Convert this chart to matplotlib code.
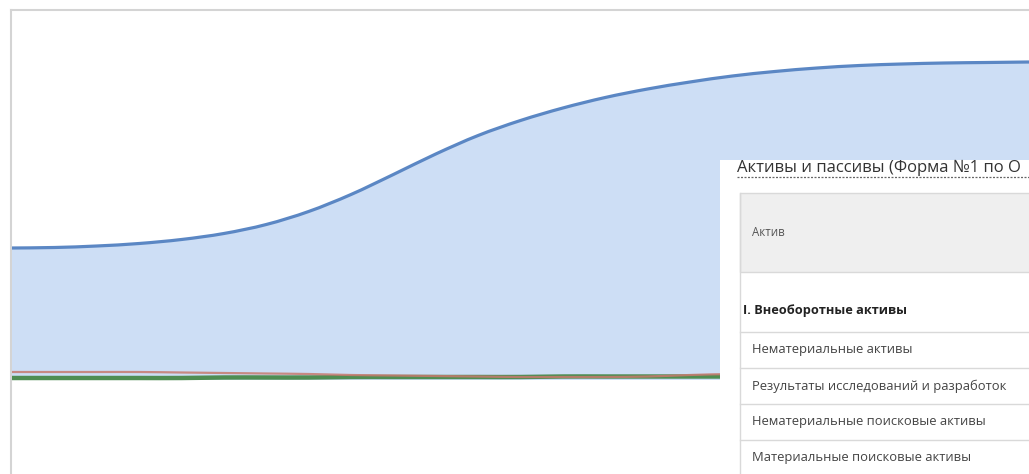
import matplotlib.pyplot as plt
from matplotlib.patches import Rectangle, PathPatch
from matplotlib.path import Path
import numpy as np

plt.rcParams['font.family'] = ['Open Sans', 'DejaVu Sans']

W, H = 1029, 474

# chart series (25 evenly spaced periods)
periods = np.arange(25)
total = [132, 132.5, 134, 136.5, 140.5, 146.5, 155.5, 168.5, 185.5, 205.5, 226,
         244.5, 259.5, 272, 282.5, 291, 298, 304, 308.5, 312, 314.5, 316, 317,
         317.5, 318]
red_series = [8, 8, 8, 8, 7.5, 7, 6.5, 6, 5, 4.5, 4, 3.5, 3, 3, 3, 3.5, 5,
              6, 6, 6, 6, 6, 6, 6, 6]
green_series = [2, 2, 2, 2, 2, 2.5, 2.5, 2.5, 3, 3, 3, 3, 3, 3.5, 3.5, 3.5,
                3.5, 3.5, 3.5, 3.5, 3.5, 3.5, 3.5, 3.5, 3.5]

# overlay table
title = "Активы и пассивы (Форма №1 по О"
header = "Актив"
section = "I. Внеоборотные активы"
rows = ["Нематериальные активы",
        "Результаты исследований и разработок",
        "Нематериальные поисковые активы",
        "Материальные поисковые активы"]


def px_axes(x0, y0, x1, y1, **kw):
    return fig.add_axes([x0 / W, 1 - y1 / H, (x1 - x0) / W, (y1 - y0) / H], **kw)


def spline_verts(x, y):
    # catmull-rom through the points, as cubic bezier segments (like a "spline" series)
    p = np.column_stack([x, y]).astype(float)
    p = np.vstack([p[0], p, p[-1]])
    verts = [p[1]]
    codes = [Path.MOVETO]
    for i in range(1, len(p) - 2):
        c1 = p[i] + (p[i + 1] - p[i - 1]) / 6
        c2 = p[i + 1] - (p[i + 2] - p[i]) / 6
        verts += [c1, c2, p[i + 1]]
        codes += [Path.CURVE4] * 3
    return verts, codes


fig = plt.figure(figsize=(W / 100, H / 100), dpi=100)
fig.patch.set_facecolor('white')

# background frame
bg = px_axes(0, 0, W, H)
bg.set_xlim(0, W)
bg.set_ylim(H, 0)
bg.axis('off')
bg.plot([11, W], [10, 10], color='#d4d4d4', lw=1.5)
bg.plot([11, 11], [10, H], color='#d4d4d4', lw=1.5)

# area chart
ax = px_axes(12, 10, W, H)
ax.patch.set_alpha(0)
ax.set_xlim(periods[0], periods[-1])
ax.set_ylim(-94, 370)
ax.axis('off')

v, c = spline_verts(periods, total)
fill_v = v + [(periods[-1], 0), (periods[0], 0), v[0]]
fill_c = c + [Path.LINETO, Path.LINETO, Path.CLOSEPOLY]
ax.add_patch(PathPatch(Path(fill_v, fill_c), facecolor='#cddef5', lw=0))
ax.add_patch(PathPatch(Path(v, c), fill=False, edgecolor='#5b87c4', lw=2.3))

v, c = spline_verts(periods, green_series)
ax.add_patch(PathPatch(Path(v, c), fill=False, edgecolor='#4f8d52', lw=3.2))
v, c = spline_verts(periods, red_series)
ax.add_patch(PathPatch(Path(v, c), fill=False, edgecolor='#c77a6e', lw=1.6, alpha=0.85))

# table panel on top
tp = px_axes(720, 160, W, H)
tp.set_xlim(720, W)
tp.set_ylim(H, 160)
tp.axis('off')
tp.add_patch(Rectangle((720, 160), W - 720, H - 160, facecolor='white', lw=0))
tp.text(737, 172, title, fontsize=12.0, color='#333333', va='baseline')
tp.plot([737, W], [177, 177], color='#666666', lw=0.9, dashes=(1.6, 1.2))

tp.add_patch(Rectangle((740, 193), W - 740 + 5, 79, facecolor='#efefef',
                       edgecolor='#d9d9d9', lw=1))
tp.text(752, 233, header, fontsize=8.3, color='#555555', va='center')
tp.text(743, 311, section, fontsize=9.2, fontweight='bold', color='#222222', va='center')

row_top = 332
row_h = 36
tp.plot([740, 740], [193, H], color='#d9d9d9', lw=1)
for i, label in enumerate(rows):
    y = row_top + i * row_h
    tp.plot([740, W], [y, y], color='#d9d9d9', lw=1)
    tp.text(752, y + row_h / 2, label, fontsize=9.4, color='#444444', va='center')

fig.savefig('out.png', dpi=100)
